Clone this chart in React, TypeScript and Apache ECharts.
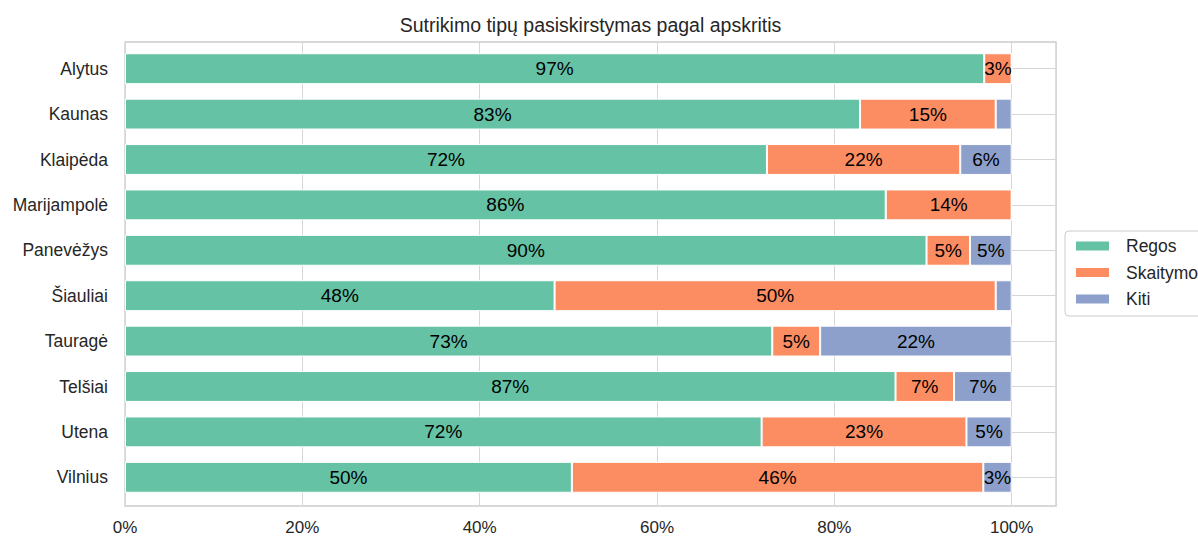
import React, { useEffect, useRef } from "react";
import * as echarts from "echarts";

const categories = ["Alytus", "Kaunas", "Klaipėda", "Marijampolė", "Panevėžys", "Šiauliai", "Tauragė", "Telšiai", "Utena", "Vilnius"];
const seriesNames = ["Regos", "Skaitymo", "Kiti"];
const regos = [96.9, 82.9, 72.4, 85.8, 90.4, 48.45, 73.0, 86.9, 71.8, 50.4];
const skaitymo = [3.1, 15.3, 21.8, 14.2, 4.9, 49.75, 5.4, 6.6, 23.1, 46.4];
const kiti = [0, 1.8, 5.8, 0, 4.7, 1.8, 21.6, 6.5, 5.1, 3.2];
const colors = ["#66c2a5", "#fc8d62", "#8da0cb"];
const titleText = "Sutrikimo tipų pasiskirstymas pagal apskritis";
const xMin = 0;
const xMax = 105;
const xInterval = 20;

export default function App() {
  const ref = useRef<HTMLDivElement>(null);
  useEffect(() => {
    document.body.style.margin = "0";
    const chart = echarts.init(ref.current!, null, { renderer: "svg" });
    const font = "'Liberation Sans', Arial, sans-serif";
    const seriesData = [regos, skaitymo, kiti];
    chart.setOption({
      animation: false,
      textStyle: { fontFamily: font },
      graphic: [
        {
          type: "text",
          x: 590.5,
          y: 25,
          style: {
            text: titleText,
            textAlign: "center",
            textVerticalAlign: "middle",
            fontSize: 19.5,
            fontFamily: font,
            fill: "#262626",
          },
        },
      ],
      grid: [
        { left: 125, right: 142, top: 42, bottom: 30, show: true, borderColor: "#cccccc", borderWidth: 1.3, backgroundColor: "transparent" },
        { left: 125, right: 142, top: 46, bottom: 36 },
      ],
      xAxis: [
        {
          gridIndex: 0,
          type: "value",
          min: xMin,
          max: xMax,
          interval: xInterval,
          axisLine: { show: false },
          axisTick: { show: false },
          splitLine: { show: true, lineStyle: { color: "#d6d6d6", width: 1 } },
          axisLabel: {
            formatter: (v: number) => (v <= 100 ? v + "%" : ""),
            fontSize: 17,
            color: "#262626",
            margin: 13,
            fontFamily: font,
          },
        },
        { gridIndex: 1, type: "value", min: xMin, max: xMax, show: false },
      ],
      yAxis: [
        { gridIndex: 0, type: "value", show: false },
        {
          gridIndex: 1,
          type: "category",
          inverse: true,
          data: categories,
          axisLine: { show: false },
          axisTick: { show: true, alignWithLabel: true, inside: true, length: 931, lineStyle: { color: "#d6d6d6", width: 1 } },
          splitLine: { show: false },
          axisLabel: { fontSize: 17.5, color: "#262626", margin: 17, fontFamily: font },
        },
      ],
      legend: {
        orient: "vertical",
        left: 1065,
        top: 231,
        data: seriesNames,
        itemWidth: 35,
        itemHeight: 11,
        itemGap: 8.5,
        padding: [6, 10, 8, 9],
        borderColor: "#cccccc",
        borderWidth: 1,
        borderRadius: 4,
        icon: "rect",
        textStyle: { fontSize: 17.5, color: "#262626", padding: [0, 0, 0, 11], fontFamily: font },
      },
      series: seriesNames.map((name, i) => ({
        name,
        type: "bar",
        stack: "total",
        xAxisIndex: 1,
        yAxisIndex: 1,
        barWidth: "68%",
        data: seriesData[i],
        itemStyle: { color: colors[i], borderColor: "#ffffff", borderWidth: 1 },
        label: {
          show: true,
          position: "inside",
          color: "#000000",
          fontSize: 19,
          fontFamily: font,
          formatter: (p: any) => (p.value >= 2.5 ? Math.round(p.value) + "%" : ""),
        },
      })),
    });
    return () => chart.dispose();
  }, []);
  return <div ref={ref} style={{ width: 1198, height: 536, position: "absolute", left: 0, top: 0 }} />;
}
